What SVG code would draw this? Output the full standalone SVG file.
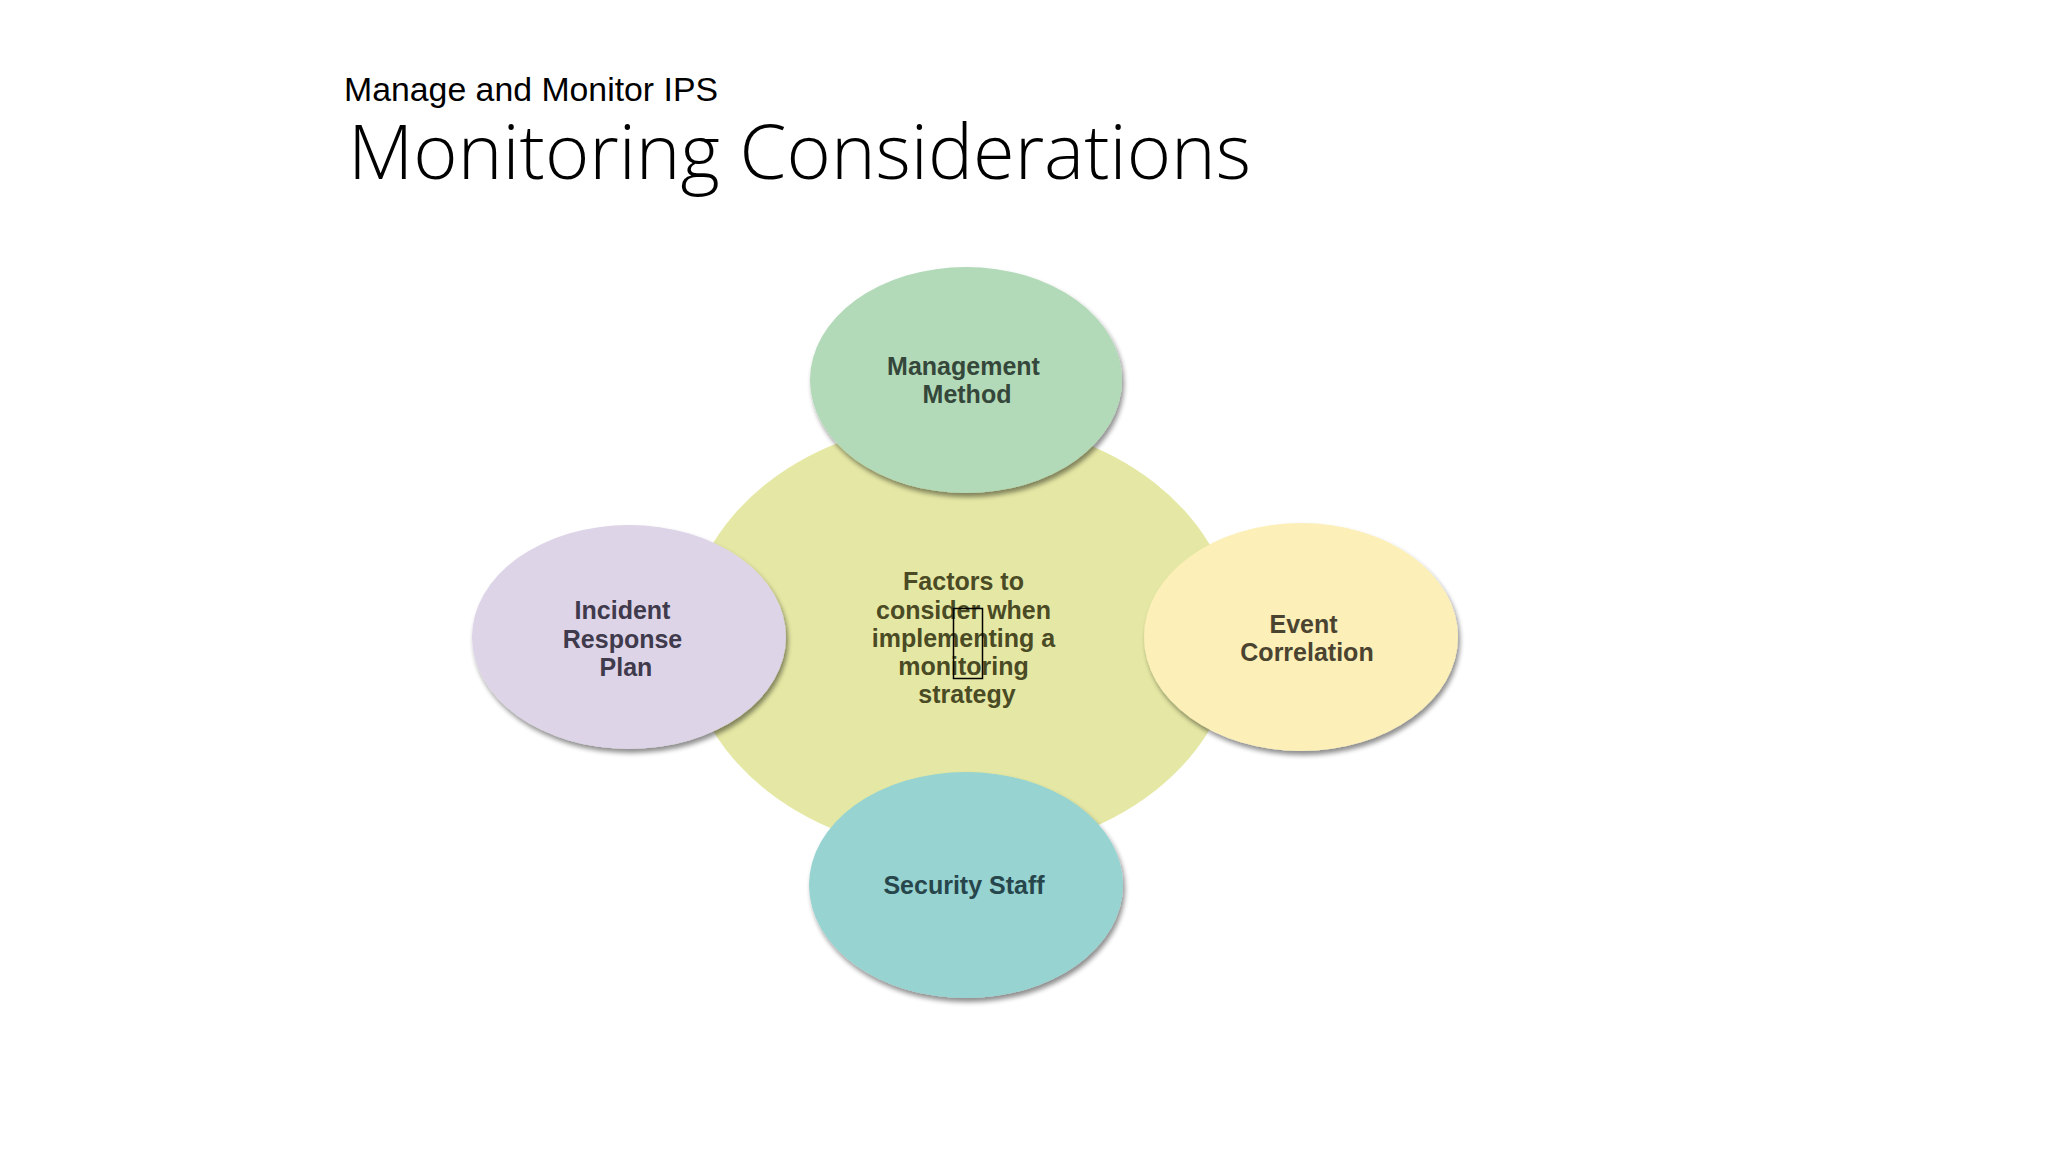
<svg xmlns="http://www.w3.org/2000/svg" width="2048" height="1152" viewBox="0 0 2048 1152">
  <defs>
    <filter id="shadow" x="-20%" y="-20%" width="140%" height="150%">
      <feGaussianBlur in="SourceAlpha" stdDeviation="2.5"/>
      <feOffset dx="2" dy="4" result="b"/>
      <feComponentTransfer><feFuncA type="linear" slope="0.45"/></feComponentTransfer>
      <feMerge><feMergeNode/><feMergeNode in="SourceGraphic"/></feMerge>
    </filter>
  </defs>
  <style>
    .lbl { font-family: "Liberation Sans", Arial, sans-serif; font-weight: bold; font-size: 25px; text-anchor: middle; }
    .sat { filter: url(#shadow); }
  </style>
  <rect x="0" y="0" width="2048" height="1152" fill="#ffffff"/>

  <g id="header">
    <text x="344" y="101" font-family="'Liberation Sans', Arial, sans-serif" font-size="34" fill="#000000" textLength="374" lengthAdjust="spacingAndGlyphs">Manage and Monitor IPS</text>
    <text x="348" y="179" font-family="'Open Sans', 'Liberation Sans', sans-serif" font-weight="300" font-size="76" fill="#000000" textLength="903" lengthAdjust="spacingAndGlyphs">Monitoring Considerations</text>
  </g>

  <g id="connectors"></g>

  <g id="node-center">
    <ellipse cx="961" cy="637" rx="275" ry="217" fill="#e5e8a4"/>
    <text class="lbl" fill="#4a4a24">
      <tspan x="967" y="590">Factors to</tspan>
      <tspan x="967" y="619">consider when</tspan>
      <tspan x="967" y="647">implementing a</tspan>
      <tspan x="967" y="675">monitoring</tspan>
      <tspan x="967" y="703">strategy</tspan>
    </text>
    <rect x="953.5" y="608.5" width="29" height="70" fill="none" stroke="#000000" stroke-width="1.5"/>
  </g>

  <g id="node-management">
    <ellipse class="sat" cx="966" cy="380" rx="156" ry="113" fill="#b3dab8"/>
    <text class="lbl" fill="#34473a">
      <tspan x="967" y="375">Management</tspan>
      <tspan x="967" y="403">Method</tspan>
    </text>
  </g>

  <g id="node-incident">
    <ellipse class="sat" cx="629" cy="637" rx="157" ry="112" fill="#ddd4e7"/>
    <text class="lbl" fill="#3f3a4c">
      <tspan x="626" y="619">Incident</tspan>
      <tspan x="626" y="648">Response</tspan>
      <tspan x="626" y="676">Plan</tspan>
    </text>
  </g>

  <g id="node-event">
    <ellipse class="sat" cx="1301" cy="637" rx="157" ry="114" fill="#fcefb7"/>
    <text class="lbl" fill="#4a4330">
      <tspan x="1307" y="633">Event</tspan>
      <tspan x="1307" y="661">Correlation</tspan>
    </text>
  </g>

  <g id="node-security">
    <ellipse class="sat" cx="966" cy="885" rx="157" ry="113" fill="#96d3d1"/>
    <text class="lbl" fill="#27464c">
      <tspan x="964" y="894">Security Staff</tspan>
    </text>
  </g>
</svg>
